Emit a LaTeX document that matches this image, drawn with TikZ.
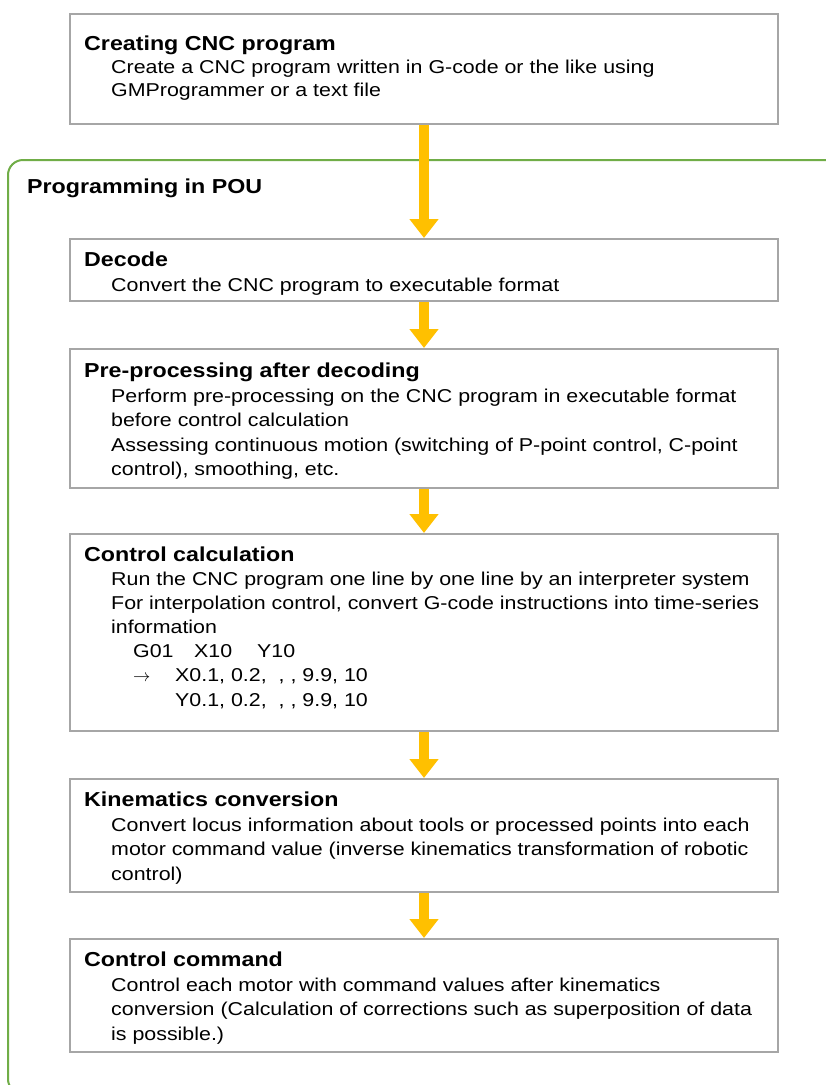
\documentclass[tikz,border=0pt]{standalone}
\usepackage{fontspec}
\setmainfont{Liberation Sans}[FakeStretch=1.15]
\usetikzlibrary{arrows.meta}
\definecolor{boxgray}{HTML}{A6A6A6}
\definecolor{shadowgray}{HTML}{D9D9D9}
\definecolor{arrowyellow}{HTML}{FFC000}
\definecolor{pougreen}{HTML}{70AD47}
\tikzset{
  stepbox/.style={draw=boxgray, line width=2pt, fill=white, inner sep=0pt, anchor=north west, minimum width=708pt},
  ttl/.style={anchor=base west, inner sep=0pt, font=\fontsize{20.2}{24}\selectfont\bfseries},
  txt/.style={anchor=base west, inner sep=0pt, font=\fontsize{18.6}{24}\selectfont},
  flow/.style={draw=arrowyellow, line width=10pt, -{Triangle[width=28pt,length=19pt]}},
  pouframe/.style={draw=pougreen, line width=2pt, rounded corners=15pt}
}
\begin{document}
\begin{tikzpicture}[x=1pt,y=-1pt]
\useasboundingbox (0,0) rectangle (826,1085);
\fill[white] (0,0) rectangle (826,1085);
% green frame (cut off by the page)
\begin{scope}
  \clip (0,0) rectangle (826,1085);
  \draw[pouframe] (8,160) rectangle (870,1094);
\end{scope}
\node[ttl] (pou) at (27,193) {Programming in POU};

% boxes
\node[stepbox, minimum height=110pt] (b1) at (69,13) {};
\node[stepbox, minimum height=62pt]  (b2) at (69,238) {};
\node[stepbox, minimum height=139pt] (b3) at (69,348) {};
\node[stepbox, minimum height=197pt] (b4) at (69,533) {};
\node[stepbox, minimum height=113pt] (b5) at (69,778) {};
\node[stepbox, minimum height=113pt] (b6) at (69,938) {};

% arrows
\draw[flow] (b1.south) -- (b2.north);
\draw[flow] (b2.south) -- (b3.north);
\draw[flow] (b3.south) -- (b4.north);
\draw[flow] (b4.south) -- (b5.north);
\draw[flow] (b5.south) -- (b6.north);

% box 1
\node[ttl] (t1) at (84,50) {Creating CNC program};
\node[txt] (t1a) at (111,73) {Create a CNC program written in G-code or the like using};
\node[txt] (t1b) at (111,96) {GMProgrammer or a text file};

% box 2
\node[ttl] (t2) at (84,266) {Decode};
\node[txt] (t2a) at (111,291) {Convert the CNC program to executable format};

% box 3
\node[ttl] (t3) at (84,377) {Pre-processing after decoding};
\node[txt] (t3a) at (111,402) {Perform pre-processing on the CNC program in executable format};
\node[txt] (t3b) at (111,426.5) {before control calculation};
\node[txt] (t3c) at (111,451) {Assessing continuous motion (switching of P-point control, C-point};
\node[txt] (t3d) at (111,475.5) {control), smoothing, etc.};

% box 4
\node[ttl] (t4) at (84,561) {Control calculation};
\node[txt] (t4a) at (111,585) {Run the CNC program one line by one line by an interpreter system};
\node[txt] (t4b) at (111,609) {For interpolation control, convert G-code instructions into time-series};
\node[txt] (t4c) at (111,633) {information};
\node[txt] (g1) at (133,657.5) {G01};
\node[txt] (g2) at (194,657.5) {X10};
\node[txt] (g3) at (257,657.5) {Y10};
\node[txt] (ar) at (133,681.5) {$\rightarrow$};
\node[txt] (xv) at (175,681.5) {X0.1, 0.2,\ \ , , 9.9, 10};
\node[txt] (yv) at (175,706) {Y0.1, 0.2,\ \ , , 9.9, 10};

% box 5
\node[ttl] (t5) at (84,806) {Kinematics conversion};
\node[txt] (t5a) at (111,831) {Convert locus information about tools or processed points into each};
\node[txt] (t5b) at (111,855) {motor command value (inverse kinematics transformation of robotic};
\node[txt] (t5c) at (111,880) {control)};

% box 6
\node[ttl] (t6) at (84,966) {Control command};
\node[txt] (t6a) at (111,991) {Control each motor with command values after kinematics};
\node[txt] (t6b) at (111,1015.5) {conversion (Calculation of corrections such as superposition of data};
\node[txt] (t6c) at (111,1040) {is possible.)};
\end{tikzpicture}
\end{document}
